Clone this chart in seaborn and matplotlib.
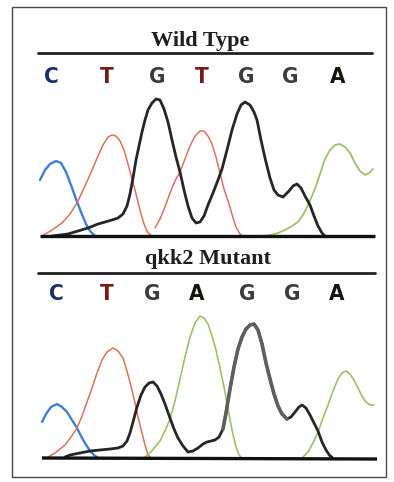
import matplotlib
matplotlib.use("Agg")
import matplotlib.pyplot as plt
from matplotlib.lines import Line2D
from matplotlib.patches import Rectangle
import seaborn as sns

# Sequencing trace values (scan position, signal above baseline)
wt_c_pos = [40, 45, 50, 56, 61, 66, 71, 76, 81, 86, 90, 95]
wt_c_sig = [56, 66, 72, 75, 73, 64, 51, 37, 24, 12, 5, 0]
wt_t_pos = [42, 52, 62, 70, 77, 85, 92, 98, 103, 108, 112, 116, 120, 124, 128, 132, 135, 138, 141, 144, 148, 152,
            155, 160, 165, 170, 175, 180, 185, 190, 195, 200, 204, 208, 212, 216, 220, 224, 228, 230, 233, 236, 240, 243]
wt_t_sig = [0, 6, 13, 22, 33, 50, 66, 80, 91, 99, 101, 100, 95, 86, 72, 57, 46, 34, 22, 12, 3, 0,
            8, 17, 29, 43, 55, 64, 77, 90, 100, 105, 105, 100, 92, 79, 63, 47, 35, 29, 18, 9, 2, 0]
wt_t_breaks = [0, 22]
wt_g_pos = [52, 60, 68, 78, 88, 98, 105, 112, 118, 123, 127, 130, 133, 136, 139, 142, 145, 148, 152, 156, 160,
            164, 168, 172, 176, 180, 184, 188, 192, 196, 200, 204, 208, 213, 218, 222, 227, 232, 237, 241, 245,
            250, 254, 257, 261, 265, 270, 274, 278, 283, 289, 293, 297, 301, 305, 310, 314, 318, 322, 325]
wt_g_sig = [0, 1, 2, 5, 8, 12, 14, 16, 18, 22, 30, 42, 58, 76, 90, 104, 116, 126, 133, 137, 136,
            127, 114, 96, 79, 64, 46, 30, 18, 13, 14, 20, 31, 43, 56, 67, 86, 106, 122, 131, 134,
            131, 124, 116, 96, 78, 58, 46, 41, 39, 45, 50, 52, 48, 40, 31, 20, 10, 3, 0]
wt_a_pos = [262, 270, 278, 285, 292, 298, 303, 308, 312, 316, 320, 325, 330, 335, 340, 345, 350, 355, 360, 365, 369, 373]
wt_a_sig = [0, 1, 3, 6, 10, 14, 21, 31, 40, 50, 62, 77, 86, 91, 92, 89, 83, 73, 65, 61, 63, 67]

mt_c_pos = [42, 46, 51, 57, 62, 67, 72, 77, 81, 85, 90, 95, 97]
mt_c_sig = [35, 43, 50, 53, 50, 45, 37, 29, 21, 14, 6, 1, 0]
mt_t_pos = [48, 55, 60, 65, 71, 77, 82, 87, 92, 97, 102, 107, 113, 118, 123, 127, 131, 135, 138, 142, 145, 148, 150]
mt_t_sig = [0, 4, 8, 12, 20, 29, 41, 55, 69, 84, 97, 105, 109, 106, 99, 86, 71, 54, 40, 24, 12, 2, 0]
mt_g_pos = [65, 70, 80, 90, 100, 110, 118, 123, 127, 130, 133, 137, 141, 145, 149, 153, 157, 161, 165, 170,
            174, 178, 183, 188, 193, 198, 203, 207, 211, 215, 219, 223, 226, 230, 234, 238, 242, 246, 250, 254,
            258, 262, 266, 270, 274, 278, 282, 287, 291, 295, 299, 302, 306, 310, 314, 318, 322, 326, 330, 332]
mt_g_sig = [0, 2, 4, 6, 7, 8, 9, 11, 16, 24, 35, 50, 62, 70, 74, 75, 71, 63, 53, 39,
            28, 19, 11, 5, 6, 9, 13, 15, 16, 17, 20, 28, 44, 68, 90, 108, 120, 128, 132, 133,
            127, 113, 94, 78, 63, 51, 43, 38, 40, 45, 50, 52, 49, 42, 34, 26, 15, 7, 1, 0]
mt_a_pos = [145, 150, 155, 160, 165, 170, 175, 180, 185, 190, 195, 200, 204, 208, 212, 216, 220, 224, 228, 232, 236, 239, 241,
            303, 308, 313, 318, 323, 328, 333, 338, 342, 346, 350, 354, 358, 362, 366, 370, 374]
mt_a_sig = [0, 4, 10, 16, 26, 38, 56, 78, 100, 120, 134, 141, 139, 133, 121, 107, 89, 70, 48, 27, 10, 2, 0,
            0, 5, 14, 25, 39, 52, 66, 78, 84, 86, 83, 77, 69, 61, 55, 52, 52]
mt_a_breaks = [0, 23]

base_calls_wt = ["C", "T", "G", "T", "G", "G", "A"]
base_calls_mt = ["C", "T", "G", "A", "G", "G", "A"]
call_pos_wt = [51, 107, 157, 202, 246, 290, 338]
call_pos_mt = [56, 107, 152, 197, 247, 292, 337]

W, H = 394, 482
BLUE, RED, BLACK, GREEN = "#3f80d4", "#d9735f", "#262626", "#9cc06c"
call_colors = {"C": "#1d2c6a", "T": "#7a1818", "G": "#3c3c3c", "A": "#14160e"}

sns.set_style("white")
fig = plt.figure(figsize=(W / 100, H / 100), dpi=100)


def fx(px):
    return px / W


def fy(py):
    return 1 - py / H


def panel(top, bottom, base_row):
    ax = fig.add_axes([0, fy(bottom), 1, (bottom - top) / H])
    ax.set_xlim(0, W)
    ax.set_ylim(base_row - bottom, base_row - top)
    ax.axis("off")
    return ax


def trace(ax, pos, sig, color, lw, breaks=None):
    breaks = (breaks or [0]) + [len(pos)]
    for a, b in zip(breaks[:-1], breaks[1:]):
        sns.lineplot(x=pos[a:b], y=sig[a:b], ax=ax, color=color, lw=lw,
                     sort=False, estimator=None, solid_capstyle="round", solid_joinstyle="round")


# Wild type panel
ax1 = panel(86, 245, 236)
trace(ax1, wt_c_pos, wt_c_sig, BLUE, 1.7)
trace(ax1, wt_t_pos, wt_t_sig, RED, 1.1, wt_t_breaks)
trace(ax1, wt_a_pos, wt_a_sig, GREEN, 1.3)
trace(ax1, wt_g_pos, wt_g_sig, BLACK, 2.0)
ax1.plot([40, 375], [0, 0], color="#111111", lw=2.4, solid_capstyle="butt")

# Mutant panel
ax2 = panel(302, 466, 457)
trace(ax2, mt_c_pos, mt_c_sig, BLUE, 1.7)
trace(ax2, mt_t_pos, mt_t_sig, RED, 1.1)
trace(ax2, mt_a_pos, mt_a_sig, GREEN, 1.2, mt_a_breaks)
trace(ax2, mt_g_pos, mt_g_sig, BLACK, 2.0)
gray = [i for i, p in enumerate(mt_g_pos) if 222 <= p <= 288]
sns.lineplot(x=[mt_g_pos[i] for i in gray], y=[mt_g_sig[i] for i in gray], ax=ax2,
             color="#5f5f5f", lw=2.6, sort=False, estimator=None, solid_joinstyle="round")
ax2.plot([42, 377], [-1, -2], color="#111111", lw=2.4, solid_capstyle="butt")

# titles, rules and base calls
fig.text(fx(200), fy(46), "Wild Type", ha="center", va="baseline",
         family="Liberation Serif", weight="bold", fontsize=16, color="#1e1e1e")
fig.text(fx(208), fy(264), "qkk2 Mutant", ha="center", va="baseline",
         family="Liberation Serif", weight="bold", fontsize=16, color="#1e1e1e")
fig.add_artist(Line2D([fx(38), fx(372)], [fy(53), fy(53)], color="#222222", lw=2))
fig.add_artist(Line2D([fx(38), fx(375)], [fy(273), fy(273)], color="#222222", lw=2))

for b, x in zip(base_calls_wt, call_pos_wt):
    fig.text(fx(x), fy(77), b, ha="center", va="center", family="DejaVu Sans",
             stretch="condensed", weight="bold", fontsize=16, color=call_colors[b])
for b, x in zip(base_calls_mt, call_pos_mt):
    fig.text(fx(x), fy(294), b, ha="center", va="center", family="DejaVu Sans",
             stretch="condensed", weight="bold", fontsize=16, color=call_colors[b])

fig.add_artist(Rectangle((fx(12), fy(477)), fx(386) - fx(12), fy(7) - fy(477),
                         fill=False, edgecolor="#4a4a4a", lw=1))

fig.savefig("out.png", dpi=100)
